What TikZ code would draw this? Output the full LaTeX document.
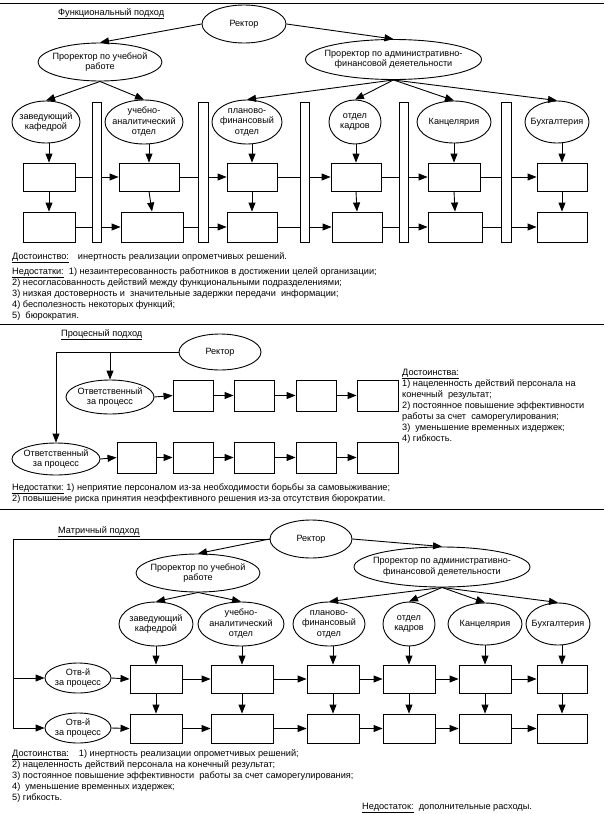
\documentclass[tikz,border=0pt]{standalone}
\usepackage{fontspec}
\setmainfont{Liberation Sans}
\usetikzlibrary{shapes.geometric,arrows.meta,calc}
\newcommand\fs{\fontsize{9.2}{11}\selectfont}
\newcommand\fl{\fontsize{9.1}{10.5}\selectfont}
\newcommand\EllNode[6]{\node[el,minimum width=#4pt,minimum height=#5pt,label={[lab]center:#6}] (#1) at (#2,#3) {};}
\newcommand\BoxNode[5]{\node[bx,minimum width=#4pt,minimum height=#5pt] (#1) at (#2,#3) {};}
\tikzset{
 el/.style={ellipse, draw, line width=0.9pt, fill=white, inner sep=0pt},
 lab/.style={align=center, inner sep=0pt, font=\fl},
 bx/.style={rectangle, draw, line width=0.9pt, fill=white, inner sep=0pt},
 vbar/.style={rectangle, draw, line width=0.9pt, fill=white, inner sep=0pt, minimum width=9pt, minimum height=140pt},
 arr/.style={line width=0.9pt, -{Triangle[length=9pt,width=7pt]}},
 ln/.style={line width=0.9pt},
 txt/.style={anchor=base west, inner sep=0pt, font=\fs},
 sepline/.style={line width=1pt}
}
\begin{document}
\begin{tikzpicture}[x=1pt,y=-1pt]
\useasboundingbox (0,0) rectangle (615,814);
% separators
\coordinate (s1a) at (0,3); \coordinate (s1b) at (604,3);
\coordinate (s2a) at (0,324); \coordinate (s2b) at (604,324);
\coordinate (s3a) at (0,509); \coordinate (s3b) at (604,509);
\draw[sepline] (s1a) -- (s1b);
\draw[sepline] (s2a) -- (s2b);
\draw[sepline] (s3a) -- (s3b);

% ================= Section 1 =================
\node[txt] (title1) at (58,15) {\underline{Функциональный подход}};
\EllNode{rA}{244}{24}{84}{38}{Ректор}
\EllNode{pu1}{100}{62}{124}{38}{Проректор по учебной\\работе}
\EllNode{pa1}{393.5}{59.5}{176}{40}{Проректор по административно-\\финансовой деяетельности}
\EllNode{zA}{46}{122}{68}{42}{заведующий\\кафедрой}
\EllNode{uA}{144}{122}{78}{44}{учебно-\\аналитический\\отдел}
\EllNode{plA}{247}{122}{70}{44}{планово-\\финансовый\\отдел}
\EllNode{kA}{355}{122}{52}{44}{отдел\\кадров}
\EllNode{cA}{454}{122}{74}{42}{Канцелярия}
\EllNode{bA}{557}{122}{64}{42}{Бухгалтерия}
\BoxNode{A1}{49}{177}{52}{28}
\BoxNode{A2}{149}{177}{60}{28}
\BoxNode{A3}{252}{177}{50}{28}
\BoxNode{A4}{356}{177}{50}{28}
\BoxNode{A5}{454}{177}{52}{28}
\BoxNode{A6}{562}{177}{50}{28}
\BoxNode{B1}{49}{227}{52}{30}
\BoxNode{B2}{152}{227}{62}{30}
\BoxNode{B3}{252}{227}{50}{30}
\BoxNode{B4}{357}{227}{50}{30}
\BoxNode{B5}{455}{227}{54}{30}
\BoxNode{B6}{562}{227}{50}{30}
\draw[arr] (rA.west) -- (pu1.north);
\draw[arr] (rA.east) -- (pa1.north);
\draw[arr] (pu1.south) -- (zA.north);
\draw[arr] (pu1.south) -- (uA.north);
\draw[arr] (pa1.south) -- (plA.north);
\draw[arr] (pa1.south) -- (kA.north);
\draw[arr] (pa1.south) -- (cA.north);
\draw[arr] (pa1.south) -- (bA.north);
\foreach \e/\b in {zA/A1,uA/A2,plA/A3,kA/A4,cA/A5,bA/A6}{
  \draw[arr] (\b.north |- \e.south) -- (\b.north);
}
\foreach \a/\b in {A1/B1,A2/B2,A3/B3,A4/B4,A5/B5,A6/B6}{
  \draw[arr] (\a.south) -- (\b.north);
}
\foreach \a/\b in {A1/A2,A2/A3,A3/A4,A4/A5,A5/A6,B1/B2,B2/B3,B3/B4,B4/B5,B5/B6}{
  \draw[arr] (\a.east) -- (\b.west);
}
\node[vbar] (v1) at (96.5,172) {};
\node[vbar,minimum width=10pt] (v2) at (203,172) {};
\node[vbar] (v3) at (304.5,172) {};
\node[vbar] (v4) at (403.5,172) {};
\node[vbar,minimum width=10pt] (v5) at (506,172) {};

\node[txt] (t11) at (12,259) {\underline{Достоинство:}\hspace{9pt}инертность реализации опрометчивых решений.};
\node[txt] (t12) at (12,274) {\underline{Недостатки:}\ \ 1) незаинтересованность работников в достижении целей организации;};
\node[txt] (t13) at (12,285) {2) несогласованность действий между функциональными подразделениями;};
\node[txt] (t14) at (12,296) {3) низкая достоверность и\ \ значительные задержки передачи\ \ информации;};
\node[txt] (t15) at (12,307) {4) бесполезность некоторых функций;};
\node[txt] (t16) at (12,318) {5)\ \ бюрократия.};

% ================= Section 2 =================
\node[txt] (title2) at (61,336) {\underline{Процесный подход}};
\EllNode{rB}{220}{352}{82}{36}{Ректор}
\EllNode{oe1}{110}{397}{88}{34}{Ответственный\\за процесс}
\EllNode{oe2}{56}{459}{88}{32}{Ответственный\\за процесс}
\BoxNode{C1}{193}{395.5}{40}{31}
\BoxNode{C2}{254}{395.5}{40}{31}
\BoxNode{C3}{316}{395.5}{40}{31}
\BoxNode{C4}{377.5}{395.5}{41}{31}
\BoxNode{D1}{136.5}{457.5}{39}{31}
\BoxNode{D2}{193}{457.5}{40}{31}
\BoxNode{D3}{254}{457.5}{40}{31}
\BoxNode{D4}{316}{457.5}{40}{31}
\BoxNode{D5}{377.5}{457.5}{41}{31}
\draw[arr] (rB.west) -| (oe2.north);
\draw[arr] (oe1.north |- rB.west) -- (oe1.north);
\draw[arr] (oe1.east) -- (C1.west);
\draw[arr] (oe2.east) -- (D1.west);
\foreach \a/\b in {C1/C2,C2/C3,C3/C4,D1/D2,D2/D3,D3/D4,D4/D5}{
  \draw[arr] (\a.east) -- (\b.west);
}
\node[txt] (t21) at (402,375) {\underline{Достоинства:}};
\node[txt] (t22) at (402,386) {1) нацеленность действий персонала на};
\node[txt] (t23) at (402,397) {конечный\ \ результат;};
\node[txt] (t24) at (402,408) {2) постоянное повышение эффективности};
\node[txt] (t25) at (402,419) {работы за счет\ \ саморегулирования;};
\node[txt] (t26) at (402,430) {3)\ \ уменьшение временных издержек;};
\node[txt] (t27) at (402,441) {4) гибкость.};
\node[txt] (t28) at (12,490) {\underline{Недостатки:} 1) неприятие персоналом из-за необходимости борьбы за самовыживание;};
\node[txt] (t29) at (12,501) {2) повышение риска принятия неэффективного решения из-за отсутствия бюрократии.};

% ================= Section 3 =================
\node[txt] (title3) at (58,533) {\underline{Матричный подход}};
\EllNode{rC}{311}{539}{82}{38}{Ректор}
\EllNode{pu3}{198}{573}{124}{38}{Проректор по учебной\\работе}
\EllNode{pa3}{442}{567}{176}{40}{Проректор по административно-\\финансовой деяетельности}
\EllNode{zC}{156}{624}{74}{44}{заведующий\\кафедрой}
\EllNode{uC}{241}{624}{86}{44}{учебно-\\аналитический\\отдел}
\EllNode{plC}{329}{624}{72}{44}{планово-\\финансовый\\отдел}
\EllNode{kC}{409}{624}{52}{44}{отдел\\кадров}
\EllNode{cC}{485}{624}{74}{42}{Канцелярия}
\EllNode{bC}{558}{624}{64}{42}{Бухгалтерия}
\EllNode{oe3}{78}{678}{66}{30}{Отв-й\\за процесс}
\EllNode{oe4}{78}{728}{66}{30}{Отв-й\\за процесс}
\BoxNode{E1}{156}{679}{52}{28}
\BoxNode{E2}{242}{679}{62}{28}
\BoxNode{E3}{333}{679}{52}{28}
\BoxNode{E4}{409}{679}{52}{28}
\BoxNode{E5}{485}{679}{52}{28}
\BoxNode{E6}{562}{679}{50}{28}
\BoxNode{F1}{156}{728.5}{52}{29}
\BoxNode{F2}{242}{728.5}{62}{29}
\BoxNode{F3}{333}{728.5}{52}{29}
\BoxNode{F4}{409}{728.5}{52}{29}
\BoxNode{F5}{485}{728.5}{52}{29}
\BoxNode{F6}{562}{728.5}{50}{29}
\coordinate (lc) at (13,728);
\draw[arr] (rC.west) -| (lc) -- (oe4.west);
\draw[arr] (lc |- oe3.west) -- (oe3.west);
\draw[arr] (rC.west) -- (pu3.north);
\draw[arr] (rC.east) -- (pa3.north);
\draw[arr] (pu3.south) -- (zC.north);
\draw[arr] (pu3.south) -- (uC.north);
\draw[arr] (pa3.south) -- (plC.north);
\draw[arr] (pa3.south) -- (kC.north);
\draw[arr] (pa3.south) -- (cC.north);
\draw[arr] (pa3.south) -- (bC.north);
\foreach \e/\b in {zC/E1,uC/E2,plC/E3,kC/E4,cC/E5,bC/E6}{
  \draw[arr] (\b.north |- \e.south) -- (\b.north);
}
\foreach \a/\b in {E1/F1,E2/F2,E3/F3,E4/F4,E5/F5,E6/F6}{
  \draw[arr] (\a.south) -- (\b.north);
}
\draw[arr] (oe3.east) -- (E1.west);
\draw[arr] (oe4.east) -- (F1.west);
\foreach \a/\b in {E1/E2,E2/E3,E3/E4,E4/E5,E5/E6,F1/F2,F2/F3,F3/F4,F4/F5,F5/F6}{
  \draw[arr] (\a.east) -- (\b.west);
}
\node[txt] (t31) at (12,756) {\underline{Достоинства:}\hspace{10pt}1) инертность реализации опрометчивых решений;};
\node[txt] (t32) at (12,767) {2) нацеленность действий персонала на конечный результат;};
\node[txt] (t33) at (12,778) {3) постоянное повышение эффективности\ \ работы за счет саморегулирования;};
\node[txt] (t34) at (12,789) {4)\ \ уменьшение временных издержек;};
\node[txt] (t35) at (12,800) {5) гибкость.};
\node[txt] (t36) at (362,809) {\underline{Недостаток:}\ \ дополнительные расходы.};
\end{tikzpicture}
\end{document}
